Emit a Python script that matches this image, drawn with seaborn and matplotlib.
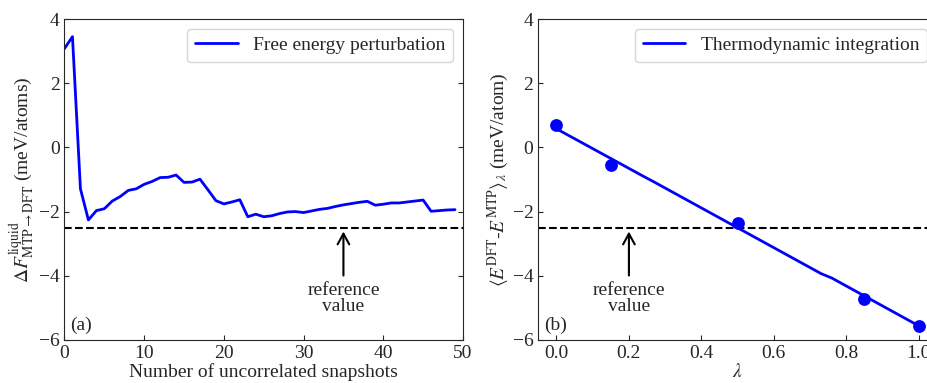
import numpy as np
import pandas as pd
import matplotlib
matplotlib.use("Agg")
import matplotlib.pyplot as plt
import seaborn as sns

# (a) free energy perturbation vs number of snapshots
n_snapshots = list(range(50))
fep_values = [3.08, 3.45, -1.29, -2.26, -1.97, -1.91, -1.67, -1.53, -1.34, -1.29,
              -1.15, -1.06, -0.94, -0.93, -0.86, -1.09, -1.08, -0.99, -1.32, -1.66,
              -1.76, -1.70, -1.63, -2.16, -2.08, -2.16, -2.13, -2.06, -2.01, -2.00,
              -2.03, -1.98, -1.93, -1.90, -1.84, -1.79, -1.75, -1.71, -1.68, -1.80,
              -1.77, -1.73, -1.73, -1.70, -1.67, -1.64, -1.99, -1.97, -1.95, -1.94]

# (b) thermodynamic integration
ti_lambda_line = [0.0, 0.24, 0.27, 0.73, 0.76, 1.0]
ti_values_line = [0.58, -0.90, -1.08, -3.93, -4.07, -5.56]
ti_lambda_pts = [0.0, 0.15, 0.5, 0.85, 1.0]
ti_values_pts = [0.70, -0.54, -2.35, -4.73, -5.56]

reference_value = -2.5
yticks = [-6, -4, -2, 0, 2, 4]

FS = 14

sns.set_style("ticks")
plt.rcParams['font.family'] = ['Liberation Serif', 'DejaVu Serif']
plt.rcParams['mathtext.fontset'] = 'stix'
plt.rcParams['font.size'] = FS
plt.rcParams['xtick.direction'] = 'in'
plt.rcParams['ytick.direction'] = 'in'

fep_df = pd.DataFrame({"n": n_snapshots, "dF": fep_values})
ti_line_df = pd.DataFrame({"lam": ti_lambda_line, "dE": ti_values_line})
ti_pts_df = pd.DataFrame({"lam": ti_lambda_pts, "dE": ti_values_pts})

fig = plt.figure(figsize=(9.28, 3.83), dpi=100)
ax1 = fig.add_axes([0.0695, 0.1123, 0.4294, 0.838])
ax2 = fig.add_axes([0.5801, 0.1123, 0.4295, 0.838])

arrow_style = dict(arrowstyle="->, head_length=0.55, head_width=0.3",
                   lw=1.5, color="k", shrinkA=2, shrinkB=0)

# panel (a)
sns.lineplot(data=fep_df, x="n", y="dF", ax=ax1, color="blue", lw=2,
             label="Free energy perturbation")
ax1.axhline(reference_value, color="k", ls="--", lw=1.5)
ax1.annotate("reference\nvalue", xy=(35, -2.62), xytext=(35, -4.18),
             ha="center", va="top", fontsize=FS, linespacing=0.95,
             arrowprops=arrow_style)
ax1.text(0.014, 0.02, "(a)", transform=ax1.transAxes, ha="left", va="bottom")
ax1.set_xlim(0, 50)
ax1.set_ylim(-6, 4)
ax1.set_yticks(yticks)
ax1.set_xlabel("Number of uncorrelated snapshots", labelpad=1)
ax1.set_ylabel(r"$\Delta F^{\rm liquid}_{\rm MTP\rightarrow DFT}$ (meV/atoms)", labelpad=1)
ax1.tick_params(right=True, labelsize=FS)
ax1.legend(loc="upper right", fontsize=FS, handlelength=2.2)

# panel (b)
sns.lineplot(data=ti_line_df, x="lam", y="dE", ax=ax2, color="blue", lw=2,
             label="Thermodynamic integration")
sns.scatterplot(data=ti_pts_df, x="lam", y="dE", ax=ax2, color="blue", s=85,
                edgecolor="blue", linewidth=0, legend=False, zorder=3)
ax2.axhline(reference_value, color="k", ls="--", lw=1.5)
ax2.annotate("reference\nvalue", xy=(0.2, -2.62), xytext=(0.2, -4.18),
             ha="center", va="top", fontsize=FS, linespacing=0.95,
             arrowprops=arrow_style)
ax2.text(0.014, 0.02, "(b)", transform=ax2.transAxes, ha="left", va="bottom")
ax2.set_xlim(-0.05, 1.05)
ax2.set_ylim(-6, 4)
ax2.set_yticks(yticks)
ax2.set_xticks([0.0, 0.2, 0.4, 0.6, 0.8, 1.0])
ax2.set_xticklabels(["0.0", "0.2", "0.4", "0.6", "0.8", "1.0"])
ax2.set_xlabel(r"$\lambda$", labelpad=1)
ax2.set_ylabel(r"$\langle E^{\rm DFT}$-$E^{\rm MTP}\rangle_{\lambda}$ (meV/atom)", labelpad=1)
ax2.tick_params(right=True, labelsize=FS)
ax2.legend(loc="upper right", fontsize=FS, handlelength=2.2)

fig.savefig("out.png", dpi=100)
